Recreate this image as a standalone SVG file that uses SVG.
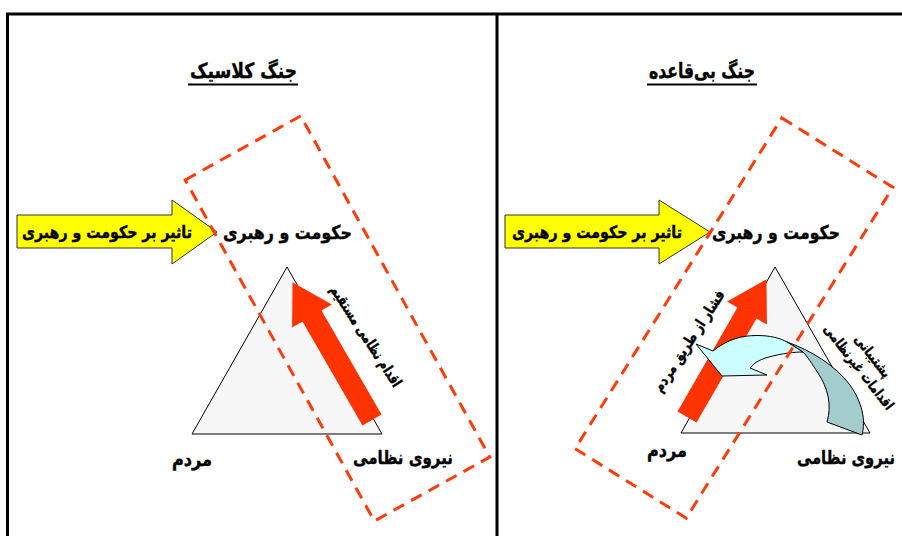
<svg xmlns="http://www.w3.org/2000/svg" width="902" height="536" viewBox="0 0 902 536">
<style>
.t{font-family:"DejaVu Sans",sans-serif;font-weight:bold;fill:#000;text-anchor:middle;stroke:#000;stroke-width:0.4}
.frame{stroke:#000;stroke-width:3;fill:none}
.dash{fill:none;stroke:#ff3c0a;stroke-width:3;stroke-dasharray:12 8}
.yel{fill:#ffff00;stroke:#333;stroke-width:1}
.tri{fill:#f7f7f7;stroke:#000;stroke-width:1}
.red{fill:#ff3300}
.ul{stroke:#000;stroke-width:2}
</style>
<rect width="902" height="536" fill="#fff"/>
<g id="frame">
<path class="frame" d="M902,14 H7.5 V536 M497,14 V536"/>
</g>
<g id="title-left">
<text class="t" x="243.5" y="78" font-size="21" textLength="107" lengthAdjust="spacingAndGlyphs">جنگ کلاسیک</text>
<line class="ul" x1="188" y1="84.5" x2="298" y2="84.5"/>
</g>
<g id="title-right">
<text class="t" x="702" y="78" font-size="21" textLength="106" lengthAdjust="spacingAndGlyphs">جنگ بی‌قاعده</text>
<line class="ul" x1="647" y1="84.5" x2="757" y2="84.5"/>
</g>
<g id="triangle-left">
<polygon class="tri" points="287,267 382,434 192,434"/>
</g>
<g id="triangle-right">
<polygon class="tri" points="775,267 870,433 681,433"/>
</g>
<g id="arrow-influence-left">
<polygon class="yel" points="17,215 172,215 172,200 217,232 172,264 172,248 17,248"/>
<text class="t" x="107" y="238" font-size="17" textLength="170" lengthAdjust="spacingAndGlyphs">تاثیر بر حکومت و رهبری</text>
</g>
<g id="arrow-influence-right">
<polygon class="yel" points="505,215 659,215 659,200 710,232 659,264 659,248 505,248"/>
<text class="t" x="597" y="238" font-size="17" textLength="170" lengthAdjust="spacingAndGlyphs">تاثیر بر حکومت و رهبری</text>
</g>
<g id="label-gov-left"><text class="t" x="287.5" y="239" font-size="19" textLength="129" lengthAdjust="spacingAndGlyphs">حکومت و رهبری</text></g>
<g id="label-gov-right"><text class="t" x="776" y="239" font-size="19" textLength="128" lengthAdjust="spacingAndGlyphs">حکومت و رهبری</text></g>
<g id="label-people-left"><text class="t" x="192" y="466" font-size="19" textLength="40" lengthAdjust="spacingAndGlyphs">مردم</text></g>
<g id="label-military-left"><text class="t" x="403" y="464" font-size="19" textLength="100" lengthAdjust="spacingAndGlyphs">نیروی نظامی</text></g>
<g id="label-people-right"><text class="t" x="667" y="457" font-size="19" textLength="40" lengthAdjust="spacingAndGlyphs">مردم</text></g>
<g id="label-military-right"><text class="t" x="846" y="464" font-size="19" textLength="98" lengthAdjust="spacingAndGlyphs">نیروی نظامی</text></g>
<g id="arrow-direct-military">
<polygon class="red" transform="translate(372,420) rotate(-30)" points="-11,0 11,0 11,-120 23,-120 0,-159 -23,-120 -11,-120"/>
<text class="t" font-size="15" transform="translate(366,336) rotate(57)" y="5" textLength="118" lengthAdjust="spacingAndGlyphs">اقدام نظامی مستقیم</text>
</g>
<g id="arrow-people-pressure">
<polygon class="red" transform="translate(687,417) rotate(30)" points="-11,0 11,0 11,-120 23,-120 0,-159 -23,-120 -11,-120"/>
<text class="t" font-size="15" transform="translate(689,341) rotate(-57)" y="5" textLength="118" lengthAdjust="spacingAndGlyphs">فشار از طریق مردم</text>
</g>
<g id="arrow-civil-support">
<path fill="#a3cccc" stroke="#000" stroke-width="1" d="M787,342 C810,350 835,365 850,385 C862,402 866,420 862,435 L827,422 C832,405 828,388 818,373 C812,364 807,356 803,352 Z"/>
<path fill="#ccffff" stroke="#000" stroke-width="1" d="M696,344 L713,351 C728,339 742,335.5 757,335.5 C770,335.5 780,338 787,342 L803,352 C795,352 783,353 767,357.5 C759,360 754,363 750,368 L767,375 L722,376 Z"/>
<g transform="translate(859,367) rotate(52)">
<text class="t" font-size="14" y="-13" textLength="50" lengthAdjust="spacingAndGlyphs">پشتیبانی</text>
<text class="t" font-size="14" y="5" textLength="104" lengthAdjust="spacingAndGlyphs">اقدامات غیرنظامی</text>
</g>
</g>
<g id="connectors">
<rect class="dash" x="-66" y="-195" width="132" height="390" transform="translate(337.5,318.5) rotate(-29)"/>
<rect class="dash" x="-65.5" y="-195" width="131" height="390" transform="translate(734,318) rotate(32)"/>
</g>
</svg>
